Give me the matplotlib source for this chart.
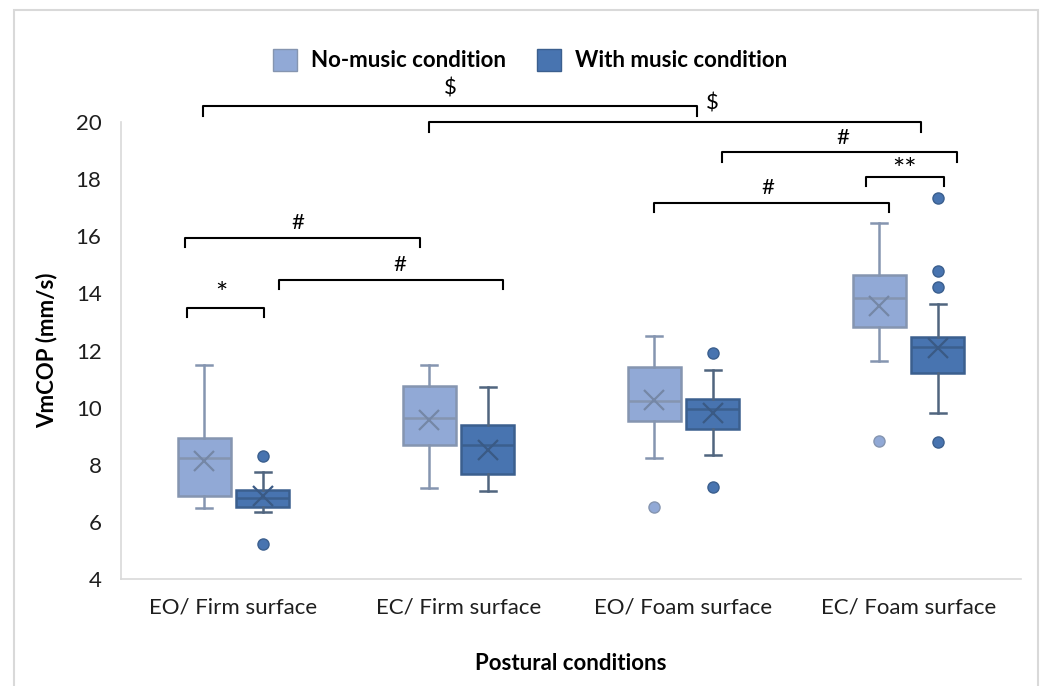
import matplotlib
matplotlib.use("Agg")
import matplotlib.pyplot as plt
from matplotlib.patches import Patch, Rectangle

## Data (VmCOP, mm/s)
categories = ["EO/ Firm surface", "EC/ Firm surface", "EO/ Foam surface", "EC/ Foam surface"]

nomusic_whislo = [6.49, 7.17, 8.24, 11.62]
nomusic_q1 = [6.92, 8.70, 9.55, 12.81]
nomusic_med = [8.24, 9.63, 10.24, 13.83]
nomusic_q3 = [8.92, 10.77, 11.42, 14.65]
nomusic_whishi = [11.48, 11.48, 12.52, 16.48]
nomusic_mean = [8.12, 9.58, 10.28, 13.57]
nomusic_fliers = [[], [], [6.53], [8.82]]

music_whislo = [6.35, 7.07, 8.33, 9.82]
music_q1 = [6.52, 7.69, 9.25, 11.23]
music_med = [6.82, 8.68, 9.97, 12.11]
music_q3 = [7.13, 9.38, 10.31, 12.47]
music_whishi = [7.74, 10.71, 11.31, 13.63]
music_mean = [6.90, 8.53, 9.81, 12.10]
music_fliers = [[8.32, 5.24], [], [11.93, 7.21], [17.33, 14.79, 14.24, 8.80]]

## Significance brackets: (x start, x end, y, label, label x, label y)
brackets = [
    (0.864, 3.060, 20.56, "$", 1.962, 21.19),
    (1.869, 4.056, 20.00, "$", 3.127, 20.66),
    (3.171, 4.216, 18.95, "#", 3.709, 19.44),
    (3.811, 4.158, 18.08, "**", 3.984, 18.30),
    (2.869, 3.913, 17.17, "#", 3.376, 17.69),
    (0.784, 1.829, 15.94, "#", 1.287, 16.47),
    (1.202, 2.198, 14.48, "#", 1.740, 15.00),
    (0.793, 1.136, 13.50, "*", 0.944, 13.93),
]

plt.rcParams['font.family'] = ['Lato', 'DejaVu Sans']

light_fill = "#91a9d6"
light_edge = "#8595b0"
dark_fill = "#4874b0"
dark_edge = "#3b5f8e"


def make_stats(lo, q1, med, q3, hi, mean, fliers):
    out = []
    for i in range(len(lo)):
        out.append(dict(whislo=lo[i], q1=q1[i], med=med[i], q3=q3[i],
                        whishi=hi[i], mean=mean[i], fliers=fliers[i]))
    return out


fig = plt.figure(figsize=(10.43, 6.86), dpi=100)
ax = fig.add_axes([0.116, 0.156, 0.863, 0.666])

pos = list(range(1, len(categories) + 1))
offset = 0.13
width = 0.236

## No-music boxes
ax.bxp(make_stats(nomusic_whislo, nomusic_q1, nomusic_med, nomusic_q3, nomusic_whishi,
                  nomusic_mean, nomusic_fliers),
       positions=[p - offset for p in pos], widths=width, patch_artist=True,
       showmeans=True, capwidths=0.07,
       boxprops=dict(facecolor=light_fill, edgecolor=light_edge, linewidth=1.8),
       medianprops=dict(color=light_edge, linewidth=1.8),
       whiskerprops=dict(color=light_edge, linewidth=1.8),
       capprops=dict(color=light_edge, linewidth=1.8),
       meanprops=dict(marker="x", markersize=14, markeredgecolor="#7587a6", markeredgewidth=1.6),
       flierprops=dict(marker="o", markersize=8, markerfacecolor=light_fill,
                       markeredgecolor=light_edge, markeredgewidth=1))

## With-music boxes
ax.bxp(make_stats(music_whislo, music_q1, music_med, music_q3, music_whishi,
                  music_mean, music_fliers),
       positions=[p + offset for p in pos], widths=width, patch_artist=True,
       showmeans=True, capwidths=0.07,
       boxprops=dict(facecolor=dark_fill, edgecolor=dark_edge, linewidth=1.8),
       medianprops=dict(color=dark_edge, linewidth=1.8),
       whiskerprops=dict(color="#50657f", linewidth=1.8),
       capprops=dict(color="#50657f", linewidth=1.8),
       meanprops=dict(marker="x", markersize=14, markeredgecolor="#3a5a85", markeredgewidth=1.6),
       flierprops=dict(marker="o", markersize=8, markerfacecolor=dark_fill,
                       markeredgecolor=dark_edge, markeredgewidth=1))

ax.set_xlim(0.5, 4.5)
ax.set_ylim(4, 20)
ax.set_yticks(range(4, 21, 2))
ax.set_xticks(pos)
ax.set_xticklabels(categories)
ax.tick_params(length=0, labelsize=16, colors="#1e1e1e")
ax.tick_params(axis="y", pad=14)
ax.tick_params(axis="x", pad=13)
for s in ["top", "right"]:
    ax.spines[s].set_visible(False)
for s in ["left", "bottom"]:
    ax.spines[s].set_color("#d9d9d9")
    ax.spines[s].set_linewidth(1.2)

ax.set_ylabel("VmCOP (mm/s)", fontsize=16, fontweight="bold", labelpad=13)
ax.set_xlabel("Postural conditions", fontsize=16, fontweight="bold", labelpad=26)

## brackets
tick_len = 0.33
for x0, x1, y, lab, lx, ly in brackets:
    ax.plot([x0, x0, x1, x1], [y - tick_len, y, y, y - tick_len], color="black",
            linewidth=1.5, clip_on=False)
    fs = 21 if "*" in lab else 16
    ax.text(lx, ly, lab, ha="center", va="center", fontsize=fs, clip_on=False)

## legend
handles = [Patch(facecolor=light_fill, edgecolor=light_edge, label="No-music condition"),
           Patch(facecolor=dark_fill, edgecolor=dark_edge, label="With music condition")]
fig.legend(handles=handles, loc="center", bbox_to_anchor=(0.508, 0.912), ncol=2,
           frameon=False, prop=dict(size=16, weight="bold"), handlelength=1.1,
           handleheight=1.1, handletextpad=0.6, columnspacing=1.4)

## outer frame
fig.patches.append(Rectangle((0.0134, -0.02), 0.9818, 1.0054, transform=fig.transFigure,
                             fill=False, edgecolor="#d9d9d9", linewidth=1.5))

fig.savefig("out.png", dpi=100)
